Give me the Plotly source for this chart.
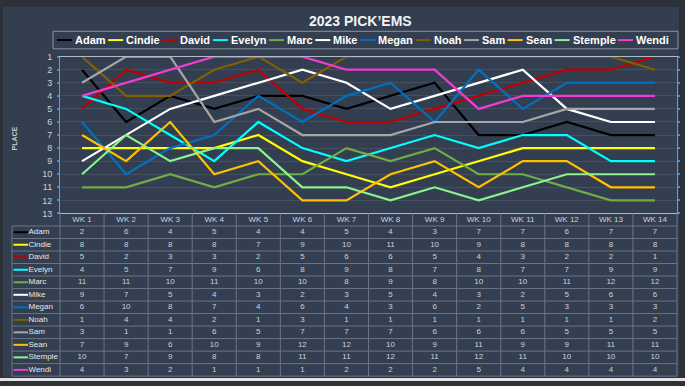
import plotly.graph_objects as go

W, H = 685, 386

weeks = ["WK 1", "WK 2", "WK 3", "WK 4", "WK 5", "WK 6", "WK 7",
         "WK 8", "WK 9", "WK 10", "WK 11", "WK 12", "WK 13", "WK 14"]
place_ticks = [1, 2, 3, 4, 5, 6, 7, 8, 9, 10, 11, 12, 13]

names = ["Adam", "Cindie", "David", "Evelyn", "Marc", "Mike",
         "Megan", "Noah", "Sam", "Sean", "Stemple", "Wendi"]

adam    = [2, 6, 4, 5, 4, 4, 5, 4, 3, 7, 7, 6, 7, 7]
cindie  = [8, 8, 8, 8, 7, 9, 10, 11, 10, 9, 8, 8, 8, 8]
david   = [5, 2, 3, 3, 2, 5, 6, 6, 5, 4, 3, 2, 2, 1]
evelyn  = [4, 5, 7, 9, 6, 8, 9, 8, 7, 8, 7, 7, 9, 9]
marc    = [11, 11, 10, 11, 10, 10, 8, 9, 8, 10, 10, 11, 12, 12]
mike    = [9, 7, 5, 4, 3, 2, 3, 5, 4, 3, 2, 5, 6, 6]
megan   = [6, 10, 8, 7, 4, 6, 4, 3, 6, 2, 5, 3, 3, 3]
noah    = [1, 4, 4, 2, 1, 3, 1, 1, 1, 1, 1, 1, 1, 2]
sam     = [3, 1, 1, 6, 5, 7, 7, 7, 6, 6, 6, 5, 5, 5]
sean    = [7, 9, 6, 10, 9, 12, 12, 10, 9, 11, 9, 9, 11, 11]
stemple = [10, 7, 9, 8, 8, 11, 11, 12, 11, 12, 11, 10, 10, 10]
wendi   = [4, 3, 2, 1, 1, 1, 2, 2, 2, 5, 4, 4, 4, 4]

series = [adam, cindie, david, evelyn, marc, mike, megan, noah, sam, sean, stemple, wendi]
colors = ["#000000", "#FFFF00", "#C00000", "#00FFFF", "#70AD47", "#FFFFFF",
          "#0070C0", "#7F6000", "#A6A6A6", "#FFC000", "#8CF28C", "#F23BD2"]

BG = "#333F50"
GRID = "#6a7484"
TXT = "#cdd2d9"
FONT = "Liberation Sans"


def px(x):
    return x / W


def py(y):
    return 1 - y / H


fig = go.Figure()

# ---- line chart ----
for nm, vals, col in zip(names, series, colors):
    fig.add_trace(go.Scatter(x=weeks, y=vals, mode="lines", name=nm,
                             line=dict(color=col, width=2.2),
                             xaxis="x", yaxis="y", showlegend=False,
                             hoverinfo="x+y+name"))

# ---- data table (below the chart) ----
col_w = 617 / 14.0
row_h = 167 / 13.0
x_left_edge = -0.5 - 48 / col_w  # name column left border

vx, vy, vt = [], [], []
for r, vals in enumerate(series, start=1):
    for c, v in enumerate(vals):
        vx.append(c)
        vy.append(r)
        vt.append(str(v))
fig.add_trace(go.Scatter(x=vx, y=vy, text=vt, mode="text", xaxis="x2", yaxis="y2",
                         textfont=dict(family=FONT, size=8, color=TXT),
                         showlegend=False, hoverinfo="skip"))
fig.add_trace(go.Scatter(x=list(range(len(weeks))), y=[0] * len(weeks), text=weeks,
                         mode="text", xaxis="x2", yaxis="y2",
                         textfont=dict(family=FONT, size=8, color=TXT),
                         showlegend=False, hoverinfo="skip"))
key_x0 = x_left_edge + 1.5 / col_w
key_x1 = x_left_edge + 16 / col_w
fig.add_trace(go.Scatter(x=[key_x1 + 0.5 / col_w] * len(names),
                         y=list(range(1, len(names) + 1)), text=names,
                         mode="text", textposition="middle right",
                         xaxis="x2", yaxis="y2",
                         textfont=dict(family=FONT, size=8, color="#e6e8eb"),
                         showlegend=False, hoverinfo="skip"))
for r, col in enumerate(colors, start=1):
    fig.add_trace(go.Scatter(x=[key_x0, key_x1], y=[r, r], mode="lines",
                             line=dict(color=col, width=2), xaxis="x2", yaxis="y2",
                             showlegend=False, hoverinfo="skip"))

shapes = []
# outer frame / background
shapes.append(dict(type="rect", xref="paper", yref="paper", x0=px(3), x1=px(679),
                   y0=py(382), y1=py(2), fillcolor=BG, line=dict(width=0), layer="below"))
shapes.append(dict(type="rect", xref="paper", yref="paper", x0=0, x1=1,
                   y0=0, y1=py(383), fillcolor="#e4e4e4", line=dict(width=0), layer="below"))
nrows = len(names)
ncols = len(weeks)
# table grid
for r in range(nrows + 1):
    shapes.append(dict(type="line", xref="x2", yref="y2", x0=x_left_edge, x1=ncols - 0.5,
                       y0=r + 0.5, y1=r + 0.5, line=dict(color=GRID, width=1)))
for c in range(ncols + 1):
    shapes.append(dict(type="line", xref="x2", yref="y2", x0=c - 0.5, x1=c - 0.5,
                       y0=-0.5, y1=nrows + 0.5, line=dict(color=GRID, width=1)))
shapes.append(dict(type="line", xref="x2", yref="y2", x0=x_left_edge, x1=x_left_edge,
                   y0=0.5, y1=nrows + 0.5, line=dict(color=GRID, width=1)))

# ---- custom legend (key + name, laid out by estimated text width) ----
bold_w = {"A": 722, "C": 722, "D": 722, "E": 667, "M": 833, "N": 722, "S": 667, "W": 944,
          "a": 556, "c": 556, "d": 611, "e": 556, "g": 611, "h": 611, "i": 278, "k": 556,
          "l": 278, "m": 889, "n": 611, "o": 611, "p": 611, "r": 389, "s": 556, "t": 333,
          "v": 556, "y": 556}
LEG_FS = 11
annotations = []
xcur = 57.0
ly = 36
for nm, col in zip(names, colors):
    tw = sum(bold_w.get(ch, 556) for ch in nm) * LEG_FS / 1000.0
    shapes.append(dict(type="line", xref="paper", yref="paper", x0=px(xcur), x1=px(xcur + 15),
                       y0=py(ly), y1=py(ly), line=dict(color=col, width=2)))
    annotations.append(dict(xref="paper", yref="paper", x=px(xcur + 16), y=py(ly),
                            xanchor="left", yanchor="middle", showarrow=False, text=nm,
                            font=dict(family=FONT, size=LEG_FS, color="#ffffff", weight="bold")))
    xcur += 15 + 1 + tw + 4.6
shapes.append(dict(type="rect", xref="paper", yref="paper", x0=px(53), x1=px(678),
                   y0=py(45), y1=py(27), line=dict(color="#8a939f", width=1)))

annotations.append(dict(xref="paper", yref="paper", x=px(361), y=py(16), xanchor="center",
                        yanchor="middle", showarrow=False, text="2023 PICK’EMS",
                        font=dict(family=FONT, size=14, color="#f2f2f2", weight="bold")))
annotations.append(dict(xref="paper", yref="paper", x=px(14), y=py(137), xanchor="center",
                        yanchor="middle", showarrow=False, text="PLACE", textangle=-90,
                        font=dict(family=FONT, size=7, color="#c8ccd2", weight="bold")))

fig.update_layout(
    width=W, height=H,
    margin=dict(l=0, r=0, t=0, b=0),
    paper_bgcolor="#2c3038",
    plot_bgcolor="rgba(0,0,0,0)",
    showlegend=False,
    shapes=shapes,
    annotations=annotations,
    xaxis=dict(domain=[px(60), px(677)], type="category", range=[-0.5, 13.5],
               showticklabels=False, showgrid=False, zeroline=False, ticks="",
               showline=True, linecolor="#b4bac3", linewidth=1, mirror=True, fixedrange=True),
    yaxis=dict(domain=[py(214), py(53)], range=[13, 1], tickvals=place_ticks,
               showgrid=True, gridcolor="#45505f", gridwidth=1, zeroline=False,
               ticks="outside", ticklen=2, tickwidth=2, tickcolor="#2f8fe0",
               showline=True, linecolor="#8a939f", linewidth=1, mirror="ticks",
               ticklabelstandoff=3,
               tickfont=dict(family=FONT, size=9, color=TXT), fixedrange=True),
    xaxis2=dict(domain=[px(11), px(678)],
                range=[x_left_edge - 1 / col_w, ncols - 0.5 + 1 / col_w],
                visible=False, fixedrange=True),
    yaxis2=dict(domain=[py(382), py(213)],
                range=[nrows + 0.5 + 1 / row_h, -0.5 - 1 / row_h],
                visible=False, fixedrange=True),
)

fig.write_html(
    "out.html",
    config={"displayModeBar": False},
    post_script="document.body.style.margin='0';document.body.style.overflow='hidden';",
)
